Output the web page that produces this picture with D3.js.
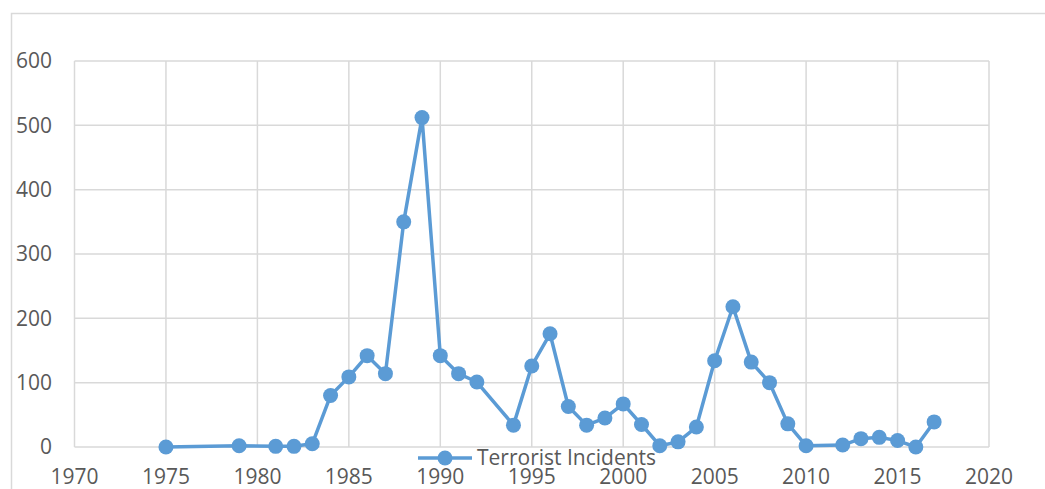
<!DOCTYPE html>
<html lang="en">
<head>
  <meta charset="UTF-8">
  <title>Terrorist Incidents</title>
  <style>
    body { margin: 0; overflow: hidden; background: #fff; }
    text { font-family: "Open Sans", sans-serif; fill: #595959; }
  </style>
</head>
<body>
  <script src="https://d3js.org/d3.v7.min.js"></script>
  <script>
    // data
    const years = [1975, 1979, 1981, 1982, 1983, 1984, 1985, 1986, 1987, 1988, 1989, 1990,
      1991, 1992, 1994, 1995, 1996, 1997, 1998, 1999, 2000, 2001, 2002, 2003, 2004, 2005,
      2006, 2007, 2008, 2009, 2010, 2012, 2013, 2014, 2015, 2016, 2017];
    const incidents = [0, 2, 1, 1, 5, 80, 109, 142, 114, 350, 512, 142,
      114, 101, 34, 126, 176, 63, 34, 45, 67, 35, 2, 8, 31, 134,
      218, 132, 100, 36, 2, 3, 13, 15, 10, 0, 39];
    const xTicks = [1970, 1975, 1980, 1985, 1990, 1995, 2000, 2005, 2010, 2015, 2020];
    const yTicks = [0, 100, 200, 300, 400, 500, 600];
    const seriesName = "Terrorist Incidents";

    const width = 1045, height = 489;
    const blue = "#5b9bd5", grid = "#d9d9d9";

    const svg = d3.select("body").append("svg").attr("width", width).attr("height", height);

    // chart border
    svg.append("rect").attr("x", 11.5).attr("y", 13.5)
      .attr("width", width + 20).attr("height", height + 20)
      .attr("fill", "none").attr("stroke", grid).attr("stroke-width", 1.5);

    const x = d3.scaleLinear().domain([1970, 2020]).range([74.5, 989]);
    const y = d3.scaleLinear().domain([0, 600]).range([447, 61]);

    const g = svg.append("g");

    g.selectAll("line.vgrid").data(xTicks).enter().append("line")
      .attr("class", "vgrid")
      .attr("x1", d => x(d)).attr("x2", d => x(d))
      .attr("y1", y(600)).attr("y2", y(0))
      .attr("stroke", grid).attr("stroke-width", 1.5);

    g.selectAll("line.hgrid").data(yTicks).enter().append("line")
      .attr("class", "hgrid")
      .attr("x1", x(1970)).attr("x2", x(2020))
      .attr("y1", d => y(d)).attr("y2", d => y(d))
      .attr("stroke", grid).attr("stroke-width", 1.5);

    g.selectAll("text.ylab").data(yTicks).enter().append("text")
      .attr("class", "ylab")
      .attr("x", 52).attr("y", d => y(d)).attr("dy", "0.35em")
      .attr("text-anchor", "end").attr("font-size", "21px")
      .text(d => d);

    g.selectAll("text.xlab").data(xTicks).enter().append("text")
      .attr("class", "xlab")
      .attr("x", d => x(d)).attr("y", 477).attr("dy", "0.35em")
      .attr("text-anchor", "middle").attr("font-size", "21px")
      .text(d => d);

    const points = years.map((yr, i) => ({year: yr, value: incidents[i]}));

    const line = d3.line().x(d => x(d.year)).y(d => y(d.value));
    g.append("path").datum(points)
      .attr("d", line).attr("fill", "none")
      .attr("stroke", blue).attr("stroke-width", 3.5).attr("stroke-linejoin", "round");

    g.selectAll("circle.pt").data(points).enter().append("circle")
      .attr("class", "pt")
      .attr("cx", d => x(d.year)).attr("cy", d => y(d.value))
      .attr("r", 7.5).attr("fill", blue);

    // legend
    const legend = svg.append("g").attr("transform", "translate(445,458)");
    legend.append("line").attr("x1", -27).attr("x2", 27).attr("y1", 0).attr("y2", 0)
      .attr("stroke", blue).attr("stroke-width", 3.5);
    legend.append("circle").attr("r", 7.5).attr("fill", blue);
    legend.append("text").attr("x", 32).attr("dy", "0.35em")
      .attr("font-size", "21px").text(seriesName);
  </script>
</body>
</html>
